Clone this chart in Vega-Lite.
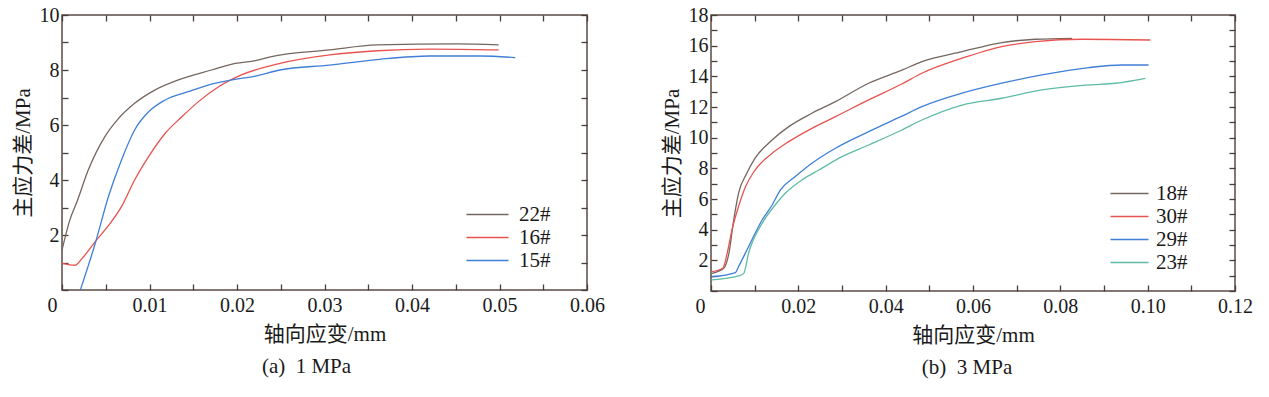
{
  "$schema": "https://vega.github.io/schema/vega-lite/v6.json",
  "background": "white",
  "padding": {"left": 11, "top": 4, "right": 5, "bottom": 5},
  "spacing": 54,
  "config": {
    "view": {"stroke": "#5b4b45", "strokeWidth": 1.5},
    "axis": {"domain": false, "grid": false, "ticks": true, "tickColor": "#4a3c36", "tickSize": -6, "tickWidth": 1.3, "labelFont": "Liberation Serif", "labelFontSize": 20, "labelColor": "#1a1a1a", "labelFlush": false, "labelOverlap": false, "titleFont": "Liberation Serif, Noto Sans CJK SC", "titleFontSize": 21, "titleFontWeight": "normal", "titleColor": "#1a1a1a"},
    "axisX": {"labelPadding": 11},
    "axisY": {"labelPadding": 9},
    "legend": {"labelFont": "Liberation Serif", "labelFontSize": 21, "labelColor": "#1a1a1a", "symbolStrokeWidth": 1.3, "symbolSize": 100, "rowPadding": 1},
    "title": {"font": "Liberation Serif", "fontSize": 21, "fontWeight": "normal", "color": "#1a1a1a"}
  },
  "resolve": {"scale": {"color": "independent"}, "legend": {"color": "independent"}},
  "hconcat": [
    {
      "width": 525,
      "height": 275,
      "title": {"text": "(a)\u00a0\u00a01 MPa", "orient": "bottom", "offset": 12, "dx": -18},
      "data": {"values": [
        {"s": "22#", "x": 0, "y": 1.45}, {"s": "22#", "x": 0.0009, "y": 2.55}, {"s": "22#", "x": 0.0017, "y": 3.2}, {"s": "22#", "x": 0.003, "y": 4.36}, {"s": "22#", "x": 0.0049, "y": 5.58}, {"s": "22#", "x": 0.0063, "y": 6.18}, {"s": "22#", "x": 0.0083, "y": 6.79}, {"s": "22#", "x": 0.0106, "y": 7.27}, {"s": "22#", "x": 0.0133, "y": 7.64}, {"s": "22#", "x": 0.0171, "y": 8.0}, {"s": "22#", "x": 0.0198, "y": 8.24}, {"s": "22#", "x": 0.0221, "y": 8.34}, {"s": "22#", "x": 0.0238, "y": 8.48}, {"s": "22#", "x": 0.0306, "y": 8.73}, {"s": "22#", "x": 0.036, "y": 8.91}, {"s": "22#", "x": 0.0451, "y": 8.95}, {"s": "22#", "x": 0.0499, "y": 8.91},
        {"s": "16#", "x": 0, "y": 0.97}, {"s": "16#", "x": 0.0015, "y": 0.9}, {"s": "16#", "x": 0.0023, "y": 1.15}, {"s": "16#", "x": 0.0038, "y": 1.76}, {"s": "16#", "x": 0.0055, "y": 2.42}, {"s": "16#", "x": 0.0068, "y": 3.03}, {"s": "16#", "x": 0.0083, "y": 4.0}, {"s": "16#", "x": 0.0099, "y": 4.85}, {"s": "16#", "x": 0.0118, "y": 5.7}, {"s": "16#", "x": 0.0137, "y": 6.3}, {"s": "16#", "x": 0.0156, "y": 6.85}, {"s": "16#", "x": 0.0179, "y": 7.39}, {"s": "16#", "x": 0.0205, "y": 7.82}, {"s": "16#", "x": 0.0249, "y": 8.24}, {"s": "16#", "x": 0.0306, "y": 8.55}, {"s": "16#", "x": 0.036, "y": 8.7}, {"s": "16#", "x": 0.042, "y": 8.76}, {"s": "16#", "x": 0.0499, "y": 8.73},
        {"s": "15#", "x": 0.0021, "y": 0}, {"s": "15#", "x": 0.0038, "y": 1.7}, {"s": "15#", "x": 0.0053, "y": 3.39}, {"s": "15#", "x": 0.0068, "y": 4.73}, {"s": "15#", "x": 0.0083, "y": 5.82}, {"s": "15#", "x": 0.0099, "y": 6.48}, {"s": "15#", "x": 0.0118, "y": 6.91}, {"s": "15#", "x": 0.0144, "y": 7.21}, {"s": "15#", "x": 0.0167, "y": 7.45}, {"s": "15#", "x": 0.0194, "y": 7.64}, {"s": "15#", "x": 0.0221, "y": 7.78}, {"s": "15#", "x": 0.0249, "y": 8.0}, {"s": "15#", "x": 0.0306, "y": 8.18}, {"s": "15#", "x": 0.0363, "y": 8.39}, {"s": "15#", "x": 0.042, "y": 8.51}, {"s": "15#", "x": 0.0478, "y": 8.51}, {"s": "15#", "x": 0.0518, "y": 8.45}
      ]},
      "resolve": {"axis": {"x": "independent", "y": "independent"}},
      "layer": [
        {
          "mark": {"type": "line", "strokeWidth": 1.3, "interpolate": "monotone"},
          "encoding": {
            "x": {"field": "x", "type": "quantitative", "scale": {"domain": [0, 0.06], "nice": false, "zero": false},
              "axis": {"orient": "bottom", "title": "轴向应变/mm", "titlePadding": 8, "values": [0, 0.005, 0.01, 0.015, 0.02, 0.025, 0.03, 0.035, 0.04, 0.045, 0.05, 0.055, 0.06],
                "labelExpr": "datum.value == 0 ? '0' : (round(datum.value * 1000) % 10 == 0 ? format(datum.value, '.2f') : '')",
                "labelOffset": {"condition": {"test": "datum.value == 0", "value": -10}, "value": 0}}},
            "y": {"field": "y", "type": "quantitative", "scale": {"domain": [0, 10], "nice": false},
              "axis": {"orient": "left", "title": "主应力差/MPa", "titlePadding": 6, "values": [0, 1, 2, 3, 4, 5, 6, 7, 8, 9, 10],
                "labelExpr": "datum.value > 0 && datum.value % 2 == 0 ? datum.label : ''"}},
            "color": {"field": "s", "type": "nominal", "scale": {"domain": ["22#", "16#", "15#"], "range": ["#75675f", "#e8534f", "#3f7fd6"]},
              "legend": {"orient": "none", "legendX": 415, "legendY": 189, "title": null, "symbolType": "M-4.2,0H4.2", "labelOffset": 21}},
            "order": {"field": "x", "type": "quantitative"}
          }
        },
        {
          "mark": {"type": "line", "strokeOpacity": 0},
          "encoding": {
            "x": {"field": "x", "type": "quantitative", "axis": {"orient": "top", "labels": false, "title": null, "values": [0, 0.005, 0.01, 0.015, 0.02, 0.025, 0.03, 0.035, 0.04, 0.045, 0.05, 0.055, 0.06]}},
            "y": {"field": "y", "type": "quantitative", "axis": {"orient": "right", "labels": false, "title": null, "values": [0, 1, 2, 3, 4, 5, 6, 7, 8, 9, 10]}},
            "detail": {"field": "s"}
          }
        }
      ]
    },
    {
      "width": 524,
      "height": 276,
      "title": {"text": "(b)\u00a0\u00a03 MPa", "orient": "bottom", "offset": 12, "dx": -6},
      "data": {"values": [
        {"s": "18#", "x": 0.0002, "y": 1.15}, {"s": "18#", "x": 0.0029, "y": 1.48}, {"s": "18#", "x": 0.0041, "y": 2.46}, {"s": "18#", "x": 0.0052, "y": 4.63}, {"s": "18#", "x": 0.0063, "y": 6.37}, {"s": "18#", "x": 0.0082, "y": 7.68}, {"s": "18#", "x": 0.0101, "y": 8.66}, {"s": "18#", "x": 0.014, "y": 9.85}, {"s": "18#", "x": 0.0178, "y": 10.72}, {"s": "18#", "x": 0.0231, "y": 11.59}, {"s": "18#", "x": 0.0285, "y": 12.35}, {"s": "18#", "x": 0.0361, "y": 13.55}, {"s": "18#", "x": 0.0437, "y": 14.4}, {"s": "18#", "x": 0.0483, "y": 14.96}, {"s": "18#", "x": 0.0575, "y": 15.61}, {"s": "18#", "x": 0.0666, "y": 16.2}, {"s": "18#", "x": 0.0743, "y": 16.42}, {"s": "18#", "x": 0.0827, "y": 16.48},
        {"s": "30#", "x": 0.0002, "y": 1.26}, {"s": "30#", "x": 0.0027, "y": 1.48}, {"s": "30#", "x": 0.0037, "y": 2.46}, {"s": "30#", "x": 0.0048, "y": 3.98}, {"s": "30#", "x": 0.0063, "y": 5.5}, {"s": "30#", "x": 0.0079, "y": 6.8}, {"s": "30#", "x": 0.0101, "y": 7.89}, {"s": "30#", "x": 0.014, "y": 8.98}, {"s": "30#", "x": 0.0178, "y": 9.74}, {"s": "30#", "x": 0.0231, "y": 10.61}, {"s": "30#", "x": 0.0285, "y": 11.37}, {"s": "30#", "x": 0.0361, "y": 12.46}, {"s": "30#", "x": 0.0437, "y": 13.5}, {"s": "30#", "x": 0.0483, "y": 14.2}, {"s": "30#", "x": 0.0575, "y": 15.18}, {"s": "30#", "x": 0.0666, "y": 15.94}, {"s": "30#", "x": 0.0743, "y": 16.26}, {"s": "30#", "x": 0.085, "y": 16.42}, {"s": "30#", "x": 0.1006, "y": 16.37},
        {"s": "29#", "x": 0.0002, "y": 0.93}, {"s": "29#", "x": 0.0056, "y": 1.2}, {"s": "29#", "x": 0.0063, "y": 1.58}, {"s": "29#", "x": 0.0086, "y": 2.89}, {"s": "29#", "x": 0.0117, "y": 4.63}, {"s": "29#", "x": 0.014, "y": 5.61}, {"s": "29#", "x": 0.0159, "y": 6.59}, {"s": "29#", "x": 0.0193, "y": 7.46}, {"s": "29#", "x": 0.0231, "y": 8.33}, {"s": "29#", "x": 0.0285, "y": 9.31}, {"s": "29#", "x": 0.0361, "y": 10.39}, {"s": "29#", "x": 0.0437, "y": 11.4}, {"s": "29#", "x": 0.0483, "y": 12.02}, {"s": "29#", "x": 0.0575, "y": 12.9}, {"s": "29#", "x": 0.0666, "y": 13.55}, {"s": "29#", "x": 0.0758, "y": 14.09}, {"s": "29#", "x": 0.0865, "y": 14.57}, {"s": "29#", "x": 0.0941, "y": 14.74}, {"s": "29#", "x": 0.1002, "y": 14.74},
        {"s": "23#", "x": 0.0002, "y": 0.72}, {"s": "23#", "x": 0.0063, "y": 0.98}, {"s": "23#", "x": 0.0075, "y": 1.15}, {"s": "23#", "x": 0.0086, "y": 2.46}, {"s": "23#", "x": 0.0117, "y": 4.41}, {"s": "23#", "x": 0.0147, "y": 5.61}, {"s": "23#", "x": 0.017, "y": 6.37}, {"s": "23#", "x": 0.0208, "y": 7.24}, {"s": "23#", "x": 0.0247, "y": 7.89}, {"s": "23#", "x": 0.03, "y": 8.76}, {"s": "23#", "x": 0.0361, "y": 9.52}, {"s": "23#", "x": 0.0437, "y": 10.5}, {"s": "23#", "x": 0.0483, "y": 11.15}, {"s": "23#", "x": 0.0575, "y": 12.13}, {"s": "23#", "x": 0.0666, "y": 12.57}, {"s": "23#", "x": 0.0758, "y": 13.11}, {"s": "23#", "x": 0.0865, "y": 13.44}, {"s": "23#", "x": 0.0926, "y": 13.55}, {"s": "23#", "x": 0.0995, "y": 13.87}
      ]},
      "resolve": {"axis": {"x": "independent", "y": "independent"}},
      "layer": [
        {
          "mark": {"type": "line", "strokeWidth": 1.3, "interpolate": "monotone"},
          "encoding": {
            "x": {"field": "x", "type": "quantitative", "scale": {"domain": [0, 0.12], "nice": false, "zero": false},
              "axis": {"orient": "bottom", "title": "轴向应变/mm", "titlePadding": 8, "values": [0, 0.01, 0.02, 0.03, 0.04, 0.05, 0.06, 0.07, 0.08, 0.09, 0.1, 0.11, 0.12],
                "labelExpr": "datum.value == 0 ? '0' : (round(datum.value * 100) % 2 == 0 ? format(datum.value, '.2f') : '')",
                "labelOffset": {"condition": {"test": "datum.value == 0", "value": -11}, "value": 0}}},
            "y": {"field": "y", "type": "quantitative", "scale": {"domain": [0, 18], "nice": false},
              "axis": {"orient": "left", "title": "主应力差/MPa", "titlePadding": 6, "values": [0, 1, 2, 3, 4, 5, 6, 7, 8, 9, 10, 11, 12, 13, 14, 15, 16, 17, 18],
                "labelExpr": "datum.value > 0 && datum.value % 2 == 0 ? datum.label : ''"}},
            "color": {"field": "s", "type": "nominal", "scale": {"domain": ["18#", "30#", "29#", "23#"], "range": ["#75675f", "#e8534f", "#3f7fd6", "#5fbba5"]},
              "legend": {"orient": "none", "legendX": 408, "legendY": 168, "title": null, "symbolType": "M-3.8,0H3.8", "labelOffset": 16}},
            "order": {"field": "x", "type": "quantitative"}
          }
        },
        {
          "mark": {"type": "line", "strokeOpacity": 0},
          "encoding": {
            "x": {"field": "x", "type": "quantitative", "axis": {"orient": "top", "labels": false, "title": null, "values": [0, 0.01, 0.02, 0.03, 0.04, 0.05, 0.06, 0.07, 0.08, 0.09, 0.1, 0.11, 0.12]}},
            "y": {"field": "y", "type": "quantitative", "axis": {"orient": "right", "labels": false, "title": null, "values": [0, 1, 2, 3, 4, 5, 6, 7, 8, 9, 10, 11, 12, 13, 14, 15, 16, 17, 18]}},
            "detail": {"field": "s"}
          }
        }
      ]
    }
  ]
}
